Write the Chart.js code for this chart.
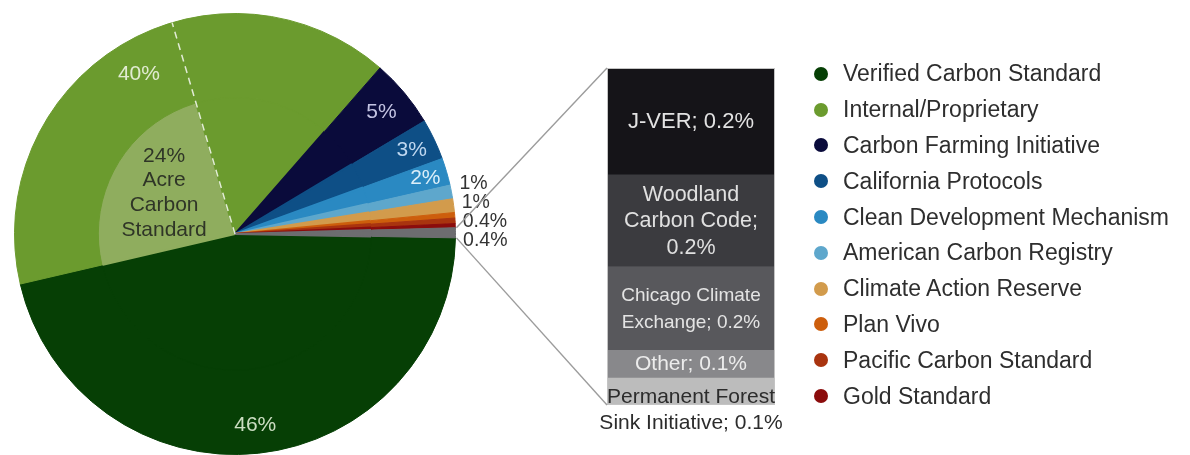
<!DOCTYPE html>
<html><head><meta charset="utf-8">
<script src="https://cdn.jsdelivr.net/npm/chart.js@4.4.1/dist/chart.umd.min.js"></script>
<style>
html,body{margin:0;padding:0;background:#fff;width:1190px;height:455px;overflow:hidden;}
#pieWrap{position:absolute;left:0;top:0;width:1190px;height:455px;}
#barWrap{position:absolute;left:440px;top:0;width:380px;height:455px;}
#legend{position:absolute;left:814px;top:56px;font-family:"Liberation Sans",Arial,sans-serif;font-size:23px;color:#2e2e2e;}
.li{height:35.8px;display:flex;align-items:center;white-space:nowrap}
.dot{width:14px;height:14px;border-radius:50%;margin-right:15px;flex:none}
</style></head><body>
<div id="pieWrap"><canvas id="pie"></canvas></div>
<div id="barWrap"><canvas id="bar"></canvas></div>
<div id="legend"></div>
<script>
// ---- data ----
const pieLabels = ["Verified Carbon Standard","Internal/Proprietary","Carbon Farming Initiative","California Protocols","Clean Development Mechanism","American Carbon Registry","Climate Action Reserve","Plan Vivo","Pacific Carbon Standard","Gold Standard"];
const pieValues = [46, 40, 5, 3, 2, 1, 1, 0.4, 0.4, 0.3];
const otherGroupLabel = "Other standards";
const acreLabel = "Acre Carbon Standard";
const acreValue = 24;          // share of Internal/Proprietary
const acreParent = 1;          // index of Internal/Proprietary
const barLabels = ["J-VER","Woodland Carbon Code","Chicago Climate Exchange","Other","Permanent Forest Sink Initiative"];
const barValues = [0.23, 0.2, 0.18, 0.06, 0.06];
const barTextLines = [["J-VER; {v}"],["Woodland","Carbon Code;","{v}"],["Chicago Climate","Exchange; {v}"],["Other; {v}"],["Permanent Forest","Sink Initiative; {v}"]];

// ---- styles ----
const pieColors = ["#063f05","#6b9b2e","#0a0b3b","#0e4f86","#2a89c2","#5ea7cc","#d29b4c","#cd5e0c","#a9340f","#8b0c0c"];
const otherColor = "#6d6d70";
const acreColor = "#8fad5e";
const barColors = ["#151418","#3b3b3f","#58585c","#88888b","#bcbcbc"];
const barTextColors = ["#e2e2e2","#e0e0e0","#e4e4e4","#ececec","#2c2c2c"];
const barFontSizes = [22, 21.5, 19, 21, 21];
const insideIdx = [0,1,2,3,4];
const insideR = [0.87,0.846,0.865,0.887,0.9];
const insideColors = ["rgba(225,238,215,0.9)","rgba(235,242,225,0.92)","rgba(205,205,235,0.95)","rgba(200,222,245,0.95)","rgba(230,244,252,0.95)"];
const outsideIdx = [5,6,7,8];
const FONT = '"Liberation Sans", Arial, Helvetica, sans-serif';

const barTotal = barValues.reduce((a,b)=>a+b,0);
const outerData = pieValues.concat([barTotal]);
const outerColors = pieColors.concat([otherColor]);
const innerData = [], innerColors = [];
pieValues.forEach((v,i)=>{
  if(i===acreParent){ innerData.push(acreValue, v-acreValue); innerColors.push(acreColor, pieColors[i]); }
  else { innerData.push(v); innerColors.push(pieColors[i]); }
});
innerData.push(barTotal); innerColors.push(otherColor);

const fmt = v => v >= 1 ? Math.round(v)+'%' : v.toFixed(1)+'%';

const piePlugin = {
  id:'pieText',
  afterDatasetsDraw(chart){
    const ctx = chart.ctx;
    const outer = chart.getDatasetMeta(0).data;
    const inner = chart.getDatasetMeta(1).data;
    const cx = outer[0].x, cy = outer[0].y, R = outer[0].outerRadius;
    ctx.save();
    // dashed divider at end of Acre sub-slice
    const a = inner[acreParent].endAngle;
    ctx.strokeStyle = 'rgba(255,255,255,0.8)'; ctx.lineWidth = 1.5; ctx.setLineDash([7,5]);
    ctx.beginPath(); ctx.moveTo(cx,cy); ctx.lineTo(cx+R*Math.cos(a), cy+R*Math.sin(a)); ctx.stroke();
    ctx.setLineDash([]);
    ctx.textAlign = 'center'; ctx.textBaseline = 'middle';
    ctx.font = '21px ' + FONT;
    insideIdx.forEach((i,k)=>{
      const arc = outer[i]; const m = (arc.startAngle+arc.endAngle)/2; const r = R*insideR[k];
      ctx.fillStyle = insideColors[k];
      ctx.fillText(fmt(pieValues[i]), cx+r*Math.cos(m), cy+r*Math.sin(m));
    });
    // Acre label
    const ac = inner[acreParent];
    const am = (ac.startAngle+ac.endAngle)/2, ar = ac.outerRadius*0.6;
    const lines = [fmt(acreValue)].concat(acreLabel.split(' '));
    ctx.fillStyle = '#2f3527';
    lines.forEach((t,j)=>ctx.fillText(t, cx+ar*Math.cos(am), cy+ar*Math.sin(am)+(j-(lines.length-1)/2)*24.7));
    // outside labels
    ctx.textAlign = 'left'; ctx.font = '19.5px ' + FONT; ctx.fillStyle = '#333';
    const pts = outsideIdx.map(i=>{ const arc = outer[i]; const m=(arc.startAngle+arc.endAngle)/2; return {x:cx+R*Math.cos(m)+8, y:cy+R*Math.sin(m), v:pieValues[i]}; });
    const meanY = pts.reduce((s,p)=>s+p.y,0)/pts.length;
    pts.forEach((p,k)=>ctx.fillText(fmt(p.v), p.x, meanY+4+(k-(pts.length-1)/2)*19));
    ctx.restore();
  }
};

const pieChart = new Chart(document.getElementById('pie'), {
  type:'pie',
  data:{ labels: pieLabels.concat([otherGroupLabel]), datasets:[
    { data: outerData, backgroundColor: outerColors, borderColor: outerColors, borderWidth: 1, weight: 84 },
    { data: innerData, backgroundColor: innerColors, borderColor: innerColors, borderWidth: 2, weight: 137 }
  ]},
  options:{ responsive:true, maintainAspectRatio:false, animation:false, rotation:91,
    layout:{padding:{left:14, top:13, right:734, bottom:0}},
    plugins:{ legend:{display:false}, tooltip:{enabled:false} } },
  plugins:[piePlugin]
});

const barPlugin = {
  id:'barText',
  afterDatasetsDraw(chart){
    const ctx = chart.ctx; const ca = chart.chartArea;
    ctx.save();
    ctx.strokeStyle = '#c4c4c4'; ctx.lineWidth = 1;
    ctx.strokeRect(ca.left+0.5, ca.top+0.5, ca.right-ca.left-1, ca.bottom-ca.top-1);
    ctx.textAlign = 'center'; ctx.textBaseline = 'middle';
    barValues.forEach((v,i)=>{
      const el = chart.getDatasetMeta(i).data[0];
      const top = Math.min(el.y, el.base), bot = Math.max(el.y, el.base), h = bot-top;
      const lines = barTextLines[i].map(t=>t.replace('{v}', v.toFixed(1)+'%'));
      const lh = 26.5, blockH = lines.length*lh, c = (top+bot)/2;
      const firstY = blockH <= h ? c + 1 - (lines.length-1)*lh/2 : c + 6;
      ctx.font = barFontSizes[i] + 'px ' + FONT; ctx.fillStyle = barTextColors[i];
      lines.forEach((t,j)=>ctx.fillText(t, el.x, firstY + j*lh));
    });
    // connector lines from the grey pie slice to the bar
    const off = chart.canvas.parentNode.offsetLeft;
    const g = pieChart.getDatasetMeta(0).data[outerData.length-1];
    const p1 = {x:g.x+g.outerRadius*Math.cos(g.startAngle)-off+1, y:g.y+g.outerRadius*Math.sin(g.startAngle)};
    const p2 = {x:g.x+g.outerRadius*Math.cos(g.endAngle)-off+1, y:g.y+g.outerRadius*Math.sin(g.endAngle)};
    ctx.strokeStyle = '#9c9c9c'; ctx.lineWidth = 1.4;
    ctx.beginPath(); ctx.moveTo(p1.x,p1.y); ctx.lineTo(ca.left, ca.top); ctx.stroke();
    ctx.beginPath(); ctx.moveTo(p2.x,p2.y); ctx.lineTo(ca.left, ca.bottom); ctx.stroke();
    ctx.restore();
  }
};

new Chart(document.getElementById('bar'), {
  type:'bar',
  data:{ labels:[otherGroupLabel], datasets: barLabels.map((l,i)=>({label:l, data:[barValues[i]], backgroundColor:barColors[i], borderWidth:0, barPercentage:1, categoryPercentage:1})) },
  options:{ responsive:true, maintainAspectRatio:false, animation:false,
    layout:{padding:{left:167, right:45, top:68, bottom:50}},
    scales:{ x:{display:false, stacked:true}, y:{display:false, stacked:true, reverse:true, min:0, max:barTotal} },
    plugins:{ legend:{display:false}, tooltip:{enabled:false} } },
  plugins:[barPlugin]
});

// legend
const lg = document.getElementById('legend');
pieLabels.forEach((l,i)=>{
  const d = document.createElement('div'); d.className='li';
  const s = document.createElement('span'); s.className='dot'; s.style.background = pieColors[i];
  d.appendChild(s); d.appendChild(document.createTextNode(l)); lg.appendChild(d);
});
</script>
</body></html>
